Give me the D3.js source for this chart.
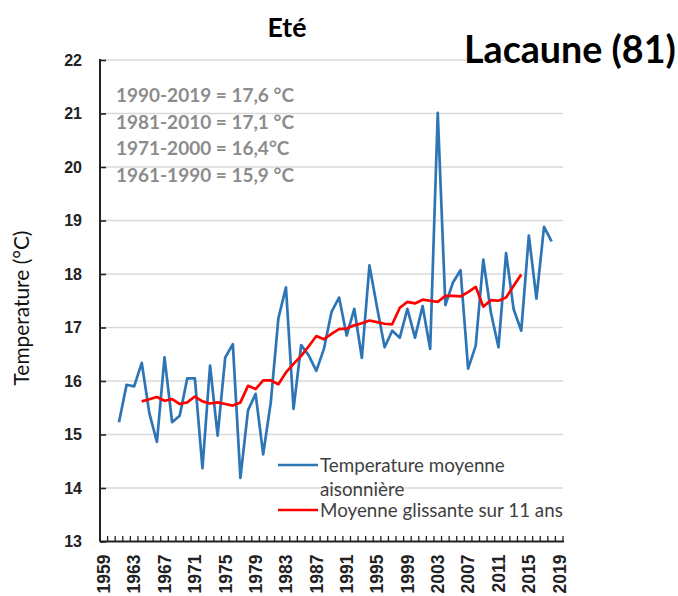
<!DOCTYPE html>
<html><head><meta charset="utf-8">
<script src="https://cdn.jsdelivr.net/npm/d3@7"></script>
<style>body{margin:0;background:#fff} svg{display:block;font-family:Lato,"Open Sans",sans-serif}</style>
</head><body><svg id="c" width="678" height="596"></svg>
<script>
// ---- data ----
const axisYears = d3.range(1959, 2020);
const tickLabelYears = [1959,1963,1967,1971,1975,1979,1983,1987,1991,1995,1999,2003,2007,2011,2015,2019];
const yTicks = [13,14,15,16,17,18,19,20,21,22];
const tempYears = d3.range(1961, 2019);
const tempValues = [15.23,15.93,15.90,16.34,15.40,14.86,16.44,15.23,15.35,16.05,
  16.05,14.37,16.29,14.98,16.44,16.69,14.19,15.45,15.76,14.63,
  15.60,17.17,17.75,15.48,16.67,16.48,16.19,16.60,17.29,17.56,
  16.85,17.35,16.43,18.16,17.38,16.63,16.94,16.81,17.35,16.81,
  17.40,16.60,21.01,17.42,17.84,18.07,16.23,16.66,18.27,17.28,
  16.63,18.39,17.34,16.94,18.72,17.54,18.88,18.61];
const avgYears = d3.range(1964, 2015);
const avgValues = [15.62,15.66,15.70,15.63,15.66,15.57,15.60,15.71,15.62,15.58,
  15.60,15.57,15.54,15.60,15.91,15.85,16.01,16.01,15.94,16.16,
  16.32,16.47,16.65,16.84,16.78,16.88,16.97,16.98,17.04,17.08,
  17.13,17.10,17.07,17.06,17.37,17.48,17.45,17.52,17.50,17.48,
  17.59,17.59,17.58,17.66,17.76,17.39,17.51,17.50,17.56,17.78,17.99];
const normals = ["1990-2019 = 17,6 °C","1981-2010 = 17,1 °C","1971-2000 = 16,4°C","1961-1990 = 15,9 °C"];
const titleText = "Eté";
const stationText = "Lacaune (81)";
const yTitle = "Temperature (°C)";
const legendItems = [
  {lines:["Temperature moyenne","aisonnière"], color:"#2e75b6"},
  {lines:["Moyenne glissante sur 11 ans"], color:"#ff0000"}
];

// ---- layout ----
const svg = d3.select("#c");
const L = 100, R = 563, T = 60, B = 541.5;
const x = d3.scaleBand().domain(axisYears).range([L, R]);
const y = d3.scaleLinear().domain([13, 22]).range([B, T]);
const cx = yr => x(yr) + x.bandwidth() / 2;

function fit(sel, target) {
  const w = sel.node().getComputedTextLength();
  const fs = parseFloat(sel.style("font-size"));
  sel.style("font-size", (fs * target / w) + "px");
}

// gridlines
svg.append("g").selectAll("line").data(yTicks.filter(d => d > 13)).join("line")
  .attr("x1", L).attr("x2", R).attr("y1", d => y(d)).attr("y2", d => y(d))
  .attr("stroke", "#d9d9d9").attr("stroke-width", 1.3);

// y axis
const ya = svg.append("g").attr("transform", `translate(${L},0)`)
  .call(d3.axisLeft(y).tickValues(yTicks).tickFormat(d3.format("d")).tickSize(-6).tickSizeOuter(0).tickPadding(18));
ya.select(".domain").remove();
ya.selectAll(".tick line").attr("stroke", "#222").attr("stroke-width", 1.6);
ya.selectAll("text").attr("fill", "#222").style("font-size", "16px").style("font-weight", "700");
svg.append("line").attr("x1", L).attr("x2", L).attr("y1", T - 1).attr("y2", B)
  .attr("stroke", "#222").attr("stroke-width", 2);

// x axis minor ticks at category boundaries
const bounds = axisYears.map(d => x(d)).concat([R]);
svg.append("g").selectAll("line").data(bounds).join("line")
  .attr("x1", d => d).attr("x2", d => d).attr("y1", B).attr("y2", B - 5.5)
  .attr("stroke", "#222").attr("stroke-width", 1.3);
svg.append("line").attr("x1", L).attr("x2", R + 1).attr("y1", B).attr("y2", B)
  .attr("stroke", "#222").attr("stroke-width", 2);

const xa = svg.append("g").attr("transform", `translate(0,${B})`)
  .call(d3.axisBottom(x).tickValues(tickLabelYears).tickSize(0));
xa.select(".domain").remove();
xa.selectAll("text")
  .attr("transform", "rotate(-90)").attr("x", -13).attr("y", 0).attr("dy", "0.36em")
  .style("text-anchor", "end").attr("fill", "#222").style("font-size", "17.5px").style("font-weight", "700");

// lines
const line = d3.line().x(d => cx(d[0])).y(d => y(d[1]));
svg.append("path").datum(d3.zip(tempYears, tempValues)).attr("d", line)
  .attr("fill", "none").attr("stroke", "#2e75b6").attr("stroke-width", 2.7).attr("stroke-linejoin", "round");
svg.append("path").datum(d3.zip(avgYears, avgValues)).attr("d", line)
  .attr("fill", "none").attr("stroke", "#ff0000").attr("stroke-width", 2.7).attr("stroke-linejoin", "round");

// normals annotation
const nt = svg.append("g").selectAll("text").data(normals).join("text")
  .attr("x", 116).attr("y", (d, i) => 102 + i * 26.5).text(d => d)
  .attr("fill", "#8c8c8c").style("font-size", "17px").style("font-weight", "700");
fit(d3.select(nt.nodes()[0]), 178);
nt.style("font-size", d3.select(nt.nodes()[0]).style("font-size"));

// legend
const legY = [465, 510];
const textBase = [[472, 496], [517]];
legendItems.forEach((it, i) => {
  svg.append("line").attr("x1", 278).attr("x2", 318).attr("y1", legY[i]).attr("y2", legY[i])
    .attr("stroke", it.color).attr("stroke-width", 2.7);
  it.lines.forEach((ln, j) => {
    svg.append("text").attr("class", "leg").attr("x", 320).attr("y", textBase[i][j]).text(ln)
      .attr("fill", "#404040").style("font-size", "16px");
  });
});
const lt = svg.selectAll("text.leg").filter(function(){return this.textContent === legendItems[1].lines[0];});
fit(lt, 243);
svg.selectAll("text.leg").style("font-size", lt.style("font-size"));

// y title
const yt = svg.append("text").attr("transform", "translate(29,308) rotate(-90)").attr("text-anchor", "middle")
  .text(yTitle).attr("fill", "#111").style("font-size", "15px");
fit(yt, 155);

// titles
const t1 = svg.append("text").attr("x", 287).attr("y", 37).attr("text-anchor", "middle").text(titleText)
  .attr("fill", "#000").style("font-size", "22px").style("font-weight", "700");
fit(t1, 39);
const t2 = svg.append("text").attr("x", 464).attr("y", 63).text(stationText)
  .attr("fill", "#000").style("font-size", "32px").style("font-weight", "700");
fit(t2, 212);
</script></body></html>
